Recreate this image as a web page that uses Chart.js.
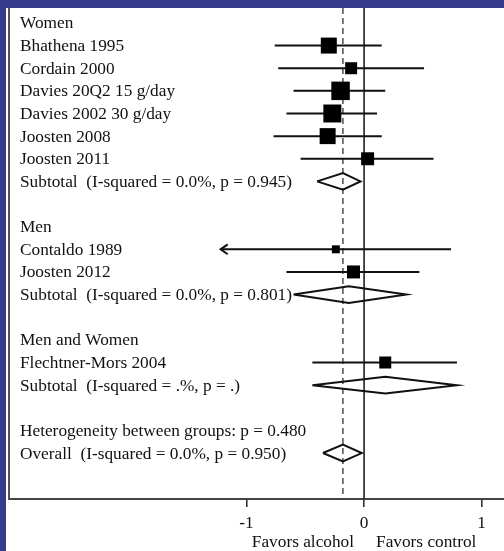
<!DOCTYPE html>
<html>
<head>
<meta charset="utf-8">
<script src="https://cdn.jsdelivr.net/npm/chart.js@4.4.1/dist/chart.umd.min.js"></script>
<style>
  html, body { margin: 0; padding: 0; background: #363b8b; }
  #wrap { width: 504px; height: 551px; }
</style>
</head>
<body>
<div id="wrap"><canvas id="myChart" width="504" height="551"></canvas></div>
<script>
// row labels, top to bottom ('' = empty row)
var rowLabels = [
  'Women', 'Bhathena 1995', 'Cordain 2000', 'Davies 20Q2 15 g/day', 'Davies 2002 30 g/day',
  'Joosten 2008', 'Joosten 2011', 'Subtotal  (I-squared = 0.0%, p = 0.945)', '',
  'Men', 'Contaldo 1989', 'Joosten 2012', 'Subtotal  (I-squared = 0.0%, p = 0.801)', '',
  'Men and Women', 'Flechtner-Mors 2004', 'Subtotal  (I-squared = .%, p = .)', '',
  'Heterogeneity between groups: p = 0.480', 'Overall  (I-squared = 0.0%, p = 0.950)'
];

// individual studies
var studyRows    = [1, 2, 3, 4, 5, 6, 10, 11, 15];
var studyEst     = [-0.30, -0.11, -0.20, -0.27, -0.31, 0.03, -0.24, -0.09, 0.18];
var studyLow     = [-0.76, -0.73, -0.60, -0.66, -0.77, -0.54, -1.22, -0.66, -0.44];
var studyHigh    = [0.15, 0.51, 0.18, 0.11, 0.15, 0.59, 0.74, 0.47, 0.79];
var studyWeights = [13.7, 7.7, 18.3, 17.3, 13.7, 9.0, 3.4, 9.0, 7.7];
var clippedLow   = [false, false, false, false, false, false, true, false, false];

// pooled estimates (subtotals and overall)
var poolRows = [7, 12, 16, 19];
var poolEst  = [-0.18, -0.13, 0.18, -0.18];
var poolLow  = [-0.40, -0.60, -0.44, -0.35];
var poolHigh = [-0.03, 0.36, 0.79, -0.02];

var xTicks = [-1, 0, 1];
var axisTitle = ['Favors alcohol', 'Favors control'];

var overallEst = poolEst[poolEst.length - 1];
var yTop = -0.66, yBottom = 21.03;

var ciData = [];
studyRows.forEach(function (r, i) {
  ciData.push({x: studyLow[i], y: r}, {x: studyHigh[i], y: r}, {x: null, y: null});
});

var arrowData = [];
studyRows.forEach(function (r, i) {
  if (clippedLow[i]) {
    arrowData.push({x: studyLow[i] + 0.06, y: r - 0.22}, {x: studyLow[i], y: r},
                   {x: studyLow[i] + 0.06, y: r + 0.22}, {x: null, y: null});
  }
});

var diamondData = [];
poolRows.forEach(function (r, i) {
  var h = 0.37;
  diamondData.push({x: poolLow[i], y: r}, {x: poolEst[i], y: r - h}, {x: poolHigh[i], y: r},
                   {x: poolEst[i], y: r + h}, {x: poolLow[i], y: r}, {x: null, y: null});
});

var squareData = studyRows.map(function (r, i) { return {x: studyEst[i], y: r}; });
var squareRadius = studyWeights.map(function (w) { return 4.32 * Math.sqrt(w) / 1.414; });

var serif = '"Liberation Serif", "Times New Roman", serif';

var decor = {
  id: 'decor',
  beforeDraw: function (chart) {
    var ctx = chart.ctx;
    ctx.save();
    ctx.fillStyle = '#363b8b';
    ctx.fillRect(0, 0, chart.width, chart.height);
    ctx.fillStyle = '#ffffff';
    ctx.fillRect(6, 8, chart.width - 6, chart.height - 8);
    ctx.restore();
  },
  afterDraw: function (chart) {
    var ctx = chart.ctx, a = chart.chartArea;
    var xs = chart.scales.x, ys = chart.scales.y;
    ctx.save();
    // left frame
    ctx.strokeStyle = '#555';
    ctx.lineWidth = 2;
    ctx.beginPath();
    ctx.moveTo(a.left, a.top);
    ctx.lineTo(a.left, a.bottom);
    ctx.stroke();
    // row labels
    ctx.fillStyle = '#111';
    ctx.font = '17.3px ' + serif;
    ctx.textBaseline = 'middle';
    ctx.textAlign = 'left';
    rowLabels.forEach(function (t, i) {
      if (t) ctx.fillText(t, 20, ys.getPixelForValue(i) + 1);
    });
    // axis title
    var w1 = ctx.measureText(axisTitle[0]).width;
    var w2 = ctx.measureText(axisTitle[1]).width;
    var gap = 22;
    var x0 = xs.getPixelForValue(0) - (w1 + gap + w2) / 2;
    ctx.fillText(axisTitle[0], x0, 542);
    ctx.fillText(axisTitle[1], x0 + w1 + gap, 542);
    ctx.restore();
  }
};

var chart = new Chart(document.getElementById('myChart').getContext('2d'), {
  type: 'scatter',
  data: {
    datasets: [
      {
        data: squareData,
        pointStyle: 'rect',
        pointRadius: squareRadius,
        pointHoverRadius: squareRadius,
        backgroundColor: '#000',
        borderColor: '#000',
        borderWidth: 0
      },
      {
        data: ciData, showLine: true, spanGaps: false,
        borderColor: '#111', borderWidth: 2, pointRadius: 0
      },
      {
        data: arrowData, showLine: true, spanGaps: false,
        borderColor: '#111', borderWidth: 2, pointRadius: 0
      },
      {
        data: diamondData, showLine: true, spanGaps: false,
        borderColor: '#111', borderWidth: 2, pointRadius: 0, fill: false
      },
      {
        data: [{x: 0, y: yTop}, {x: 0, y: yBottom}], showLine: true,
        borderColor: '#222', borderWidth: 1.6, pointRadius: 0
      },
      {
        data: [{x: overallEst, y: yTop}, {x: overallEst, y: yBottom}], showLine: true,
        borderColor: '#333', borderWidth: 1.3, borderDash: [6, 4], pointRadius: 0
      }
    ]
  },
  options: {
    responsive: false,
    animation: false,
    events: [],
    layout: { autoPadding: false, padding: { left: 9, top: 8, right: 0, bottom: 0 } },
    plugins: { legend: { display: false }, tooltip: { enabled: false } },
    scales: {
      x: {
        type: 'linear',
        min: -3.02,
        max: 1.19,
        afterBuildTicks: function (scale) {
          scale.ticks = xTicks.map(function (v) { return {value: v}; });
        },
        afterFit: function (scale) {
          scale.height = 52;
          scale.paddingLeft = 0;
          scale.paddingRight = 0;
        },
        grid: { drawOnChartArea: false, drawTicks: true, tickLength: 8, color: '#333', lineWidth: 1.6 },
        border: { display: true, color: '#444', width: 2 },
        ticks: {
          color: '#111',
          padding: 6,
          maxRotation: 0,
          font: { family: serif, size: 17.3 },
          callback: function (v) { return String(v); }
        }
      },
      y: {
        type: 'linear',
        display: false,
        reverse: true,
        min: yTop,
        max: yBottom
      }
    }
  },
  plugins: [decor]
});
</script>
</body>
</html>
